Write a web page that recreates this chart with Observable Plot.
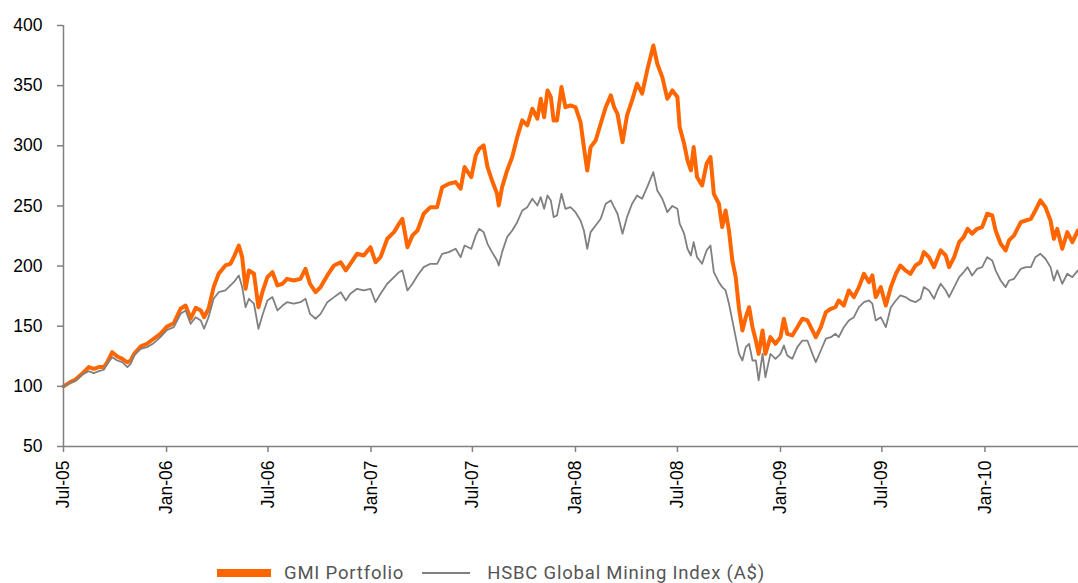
<!DOCTYPE html>
<html><head><meta charset="utf-8">
<script src="https://cdn.jsdelivr.net/npm/d3@7"></script>
<script src="https://cdn.jsdelivr.net/npm/@observablehq/plot@0.6"></script>
<style>
body{margin:0;background:#fff;}
#wrap{position:relative;width:1078px;height:583px;overflow:hidden;}
#legend{position:absolute;top:564px;left:217px;font-family:Roboto,"Liberation Sans",sans-serif;font-size:18.5px;letter-spacing:0.8px;color:#555;display:flex;align-items:center;white-space:nowrap;line-height:18px;}
#legend .sw{display:inline-block;}
</style></head><body><div id="wrap"><div id="chart"></div>
<div id="legend"></div></div>
<script>
const seriesNames = ["GMI Portfolio", "HSBC Global Mining Index (A$)"];
const seriesColors = ["#ff6600", "#808080"];
const tickDates = ["2005-07-01","2006-01-01","2006-07-01","2007-01-01","2007-07-01","2008-01-01","2008-07-01","2009-01-01","2009-07-01","2010-01-01"];
const tickLabels = ["Jul-05","Jan-06","Jul-06","Jan-07","Jul-07","Jan-08","Jul-08","Jan-09","Jul-09","Jan-10"];
const yTicks = [50,100,150,200,250,300,350,400];
const dates = [
"2005-07-01","2005-07-13","2005-07-22","2005-08-03","2005-08-15","2005-08-24","2005-09-02","2005-09-11","2005-09-17","2005-09-26",
"2005-10-05","2005-10-14","2005-10-23","2005-10-29","2005-11-04","2005-11-16","2005-11-27","2005-12-09","2005-12-21","2006-01-02",
"2006-01-14","2006-01-26","2006-02-04","2006-02-13","2006-02-22","2006-03-03","2006-03-09","2006-03-17","2006-03-26","2006-04-04",
"2006-04-16","2006-04-25","2006-05-01","2006-05-10","2006-05-16","2006-05-22","2006-05-28","2006-06-06","2006-06-14","2006-06-21",
"2006-06-30","2006-07-09","2006-07-18","2006-07-27","2006-08-04","2006-08-16","2006-08-28","2006-09-06","2006-09-14","2006-09-24",
"2006-10-03","2006-10-15","2006-10-27","2006-11-08","2006-11-17","2006-11-25","2006-12-07","2006-12-19","2006-12-31","2007-01-09",
"2007-01-18","2007-01-30","2007-02-11","2007-02-20","2007-02-26","2007-03-07","2007-03-16","2007-03-25","2007-04-05","2007-04-17",
"2007-04-29","2007-05-08","2007-05-20","2007-06-01","2007-06-10","2007-06-17","2007-06-29","2007-07-07","2007-07-13","2007-07-21",
"2007-07-28","2007-08-05","2007-08-14","2007-08-17","2007-08-23","2007-09-01","2007-09-10","2007-09-19","2007-09-28","2007-10-07",
"2007-10-16","2007-10-25","2007-10-31","2007-11-06","2007-11-12","2007-11-18","2007-11-23","2007-11-29","2007-12-07","2007-12-14",
"2007-12-23","2008-01-01","2008-01-10","2008-01-16","2008-01-22","2008-01-28","2008-02-06","2008-02-15","2008-02-24","2008-03-04",
"2008-03-10","2008-03-16","2008-03-25","2008-04-02","2008-04-11","2008-04-20","2008-04-29","2008-05-08","2008-05-19","2008-05-26",
"2008-06-04","2008-06-13","2008-06-22","2008-07-01","2008-07-05","2008-07-13","2008-07-19","2008-07-25","2008-07-30","2008-08-05",
"2008-08-14","2008-08-22","2008-08-29","2008-09-04","2008-09-13","2008-09-19","2008-09-25","2008-10-01","2008-10-07","2008-10-13",
"2008-10-19","2008-10-25","2008-10-31","2008-11-06","2008-11-12","2008-11-18","2008-11-23","2008-11-30","2008-12-05","2008-12-14",
"2008-12-23","2009-01-01","2009-01-07","2009-01-13","2009-01-22","2009-01-31","2009-02-09","2009-02-18","2009-02-27","2009-03-05",
"2009-03-14","2009-03-23","2009-04-01","2009-04-09","2009-04-15","2009-04-24","2009-05-03","2009-05-12","2009-05-21","2009-05-30",
"2009-06-08","2009-06-14","2009-06-20","2009-06-29","2009-07-08","2009-07-17","2009-07-26","2009-08-03","2009-08-12","2009-08-21",
"2009-08-30","2009-09-08","2009-09-14","2009-09-23","2009-10-02","2009-10-08","2009-10-14","2009-10-23","2009-10-29","2009-11-07",
"2009-11-16","2009-11-24","2009-12-01","2009-12-09","2009-12-18","2009-12-27","2010-01-05","2010-01-14","2010-01-20","2010-01-29",
"2010-02-07","2010-02-13","2010-02-22","2010-03-06","2010-03-15","2010-03-24","2010-04-01","2010-04-10","2010-04-19","2010-04-28",
"2010-05-04","2010-05-10","2010-05-19","2010-05-28","2010-06-06","2010-06-16"];
const gmi = [
100,103.5,105.5,110.4,116,114.6,116,116,120,128.4,
124.8,122.9,120,121.5,127,133.2,135.4,139.6,143.7,149.8,
152.5,164.5,167.2,156.2,165.3,163.1,157.5,164.5,182.5,193.6,
200.5,201.9,207.4,217.1,207.4,181.1,196.4,193.6,165.8,178.3,
190.8,194.9,183.9,185.3,189.4,188,189.4,197.7,185.3,178.3,
182.5,192.2,200.5,203.2,196.4,201.9,210.2,208.8,215.7,203.2,
207.4,222.7,228.2,235.2,239.3,215.7,225.5,229.6,243.5,249,
249,265.6,268.4,269.8,264.3,282.3,274,292,297.5,300.3,
282.3,271.2,260.1,250.4,265.6,279.5,290.6,307.2,321.1,316.9,
330.8,322.5,339.1,323.8,346,340.5,321.1,321.1,348.8,332.1,
333.5,332.1,319.7,298.9,279.5,298.9,304.4,318.3,332.1,341.9,
332.1,326.6,303,325.2,337.7,351.6,343.3,362.7,383.4,368.2,
357.1,339.1,346,340.5,315.5,301.7,287.8,279.5,298.9,274,
267,285,290.6,260.1,251.8,232.4,246.2,229.6,204.7,190.8,
164.5,146.5,157.5,165.8,149.2,138.1,127,146.5,127,140.9,
135.4,140.9,156.2,143.7,142.3,149.2,156.2,154.8,146.5,140.9,
149.2,161.7,164.5,165.8,171.4,167.2,179.7,174.2,182.5,193.6,
186.6,192.2,174.2,182.5,167.2,182.5,193.6,200.5,196.4,193.6,
200.5,203.2,211.6,207.4,199.1,206.1,213,208.8,199.1,207.4,
219.9,224.1,231,226.9,231,232.4,243.5,242.1,229.6,218.5,
213,221.3,225.5,236.5,237.9,239.3,246.2,254.6,249,237.9,
222.7,231,214.4,228.2,219.9,229.6];
const hsbc = [
100,103,104.3,109.6,112.6,111,112.6,113.8,118.8,124.3,
121.5,120.1,116,118.8,125.7,131.2,132.6,135.9,140.9,147,
149.2,160.3,163.1,152,157.5,154.8,147.9,157.5,172.8,178.3,
179.7,183.9,186.6,192.2,182.5,165.8,172.8,168.7,147.9,158.9,
171.4,174.2,163.1,167.2,170,168.7,170,172.8,160.3,156.2,
160.3,170,174.2,178.3,171.4,177,181.1,179.7,181.1,170,
177,185.3,190.8,194.9,196.4,179.7,185.3,192.2,199.1,201.9,
201.9,210.2,211.6,214.4,207.4,217.1,214.4,225.5,231,228.2,
218.5,211.6,204.7,200.5,211.6,224.1,229.6,236.5,246.2,249,
256,250.4,257.3,247.6,258.7,254.6,240.7,242.1,260.1,247.6,
249,244.8,237.9,229.6,214.4,228.2,233.8,239.3,251.8,254.6,
249,243.5,226.9,240.7,251.8,258.7,256,265.6,278.1,262.9,
256,244.8,250,247.6,235.2,226.9,214.4,208.8,219.9,207.4,
201.9,213,217.1,194.9,186.6,182.5,179.7,168.7,154.8,140.9,
127,121.5,132.6,135.4,121.5,121.5,104.9,127,107.6,127,
122.9,127,134,125.7,122.9,132.6,138.1,138.1,127,120.1,
129.8,139.6,140.9,143.7,140.9,149.2,154.8,157.5,165.8,170,
171.4,168.7,154.8,157.5,149.2,165.8,171.4,175.6,174.2,171.4,
170,172.8,182.5,179.7,172.8,179.7,185.3,179.7,174.2,182.5,
190.8,194.9,199.1,192.2,197.7,199.1,207.4,204.7,196.4,188,
182.5,188,189.4,197.7,199.1,199.1,207.4,210.2,206.1,199.1,
188,196.4,185.3,193.6,190.8,196.4];

const data = dates.map((d, i) => ({date: new Date(d), gmi: gmi[i], hsbc: hsbc[i]}));
const xStart = new Date("2005-07-01"), xEnd = new Date("2010-06-17");
const labelMap = new Map(tickDates.map((d, i) => [+new Date(d), tickLabels[i]]));

const chart = Plot.plot({
  width: 1078, height: 530,
  marginLeft: 63, marginRight: 0, marginTop: 25, marginBottom: 84,
  style: {fontFamily: "'Liberation Sans', Arial, sans-serif", fontSize: "17px", color: "#000", background: "#fff", overflow: "visible"},
  x: {type: "utc", domain: [xStart, xEnd]},
  y: {domain: [50, 400]},
  marks: [
    Plot.lineY(data, {x: "date", y: "gmi", stroke: seriesColors[0], strokeWidth: 4}),
    Plot.lineY(data, {x: "date", y: "hsbc", stroke: seriesColors[1], strokeWidth: 1.8}),
    Plot.ruleY([50], {stroke: "#808080", strokeWidth: 1.5}),
    Plot.ruleX([xStart], {y1: 50, y2: 400, stroke: "#808080", strokeWidth: 1.5}),
    Plot.axisY({ticks: yTicks, tickSize: 6, tickPadding: 15, stroke: "#808080", strokeWidth: 1.5, fill: "#000", label: null, fontSize: 17.5}),
    Plot.axisX({ticks: tickDates.map(d => new Date(d)), tickFormat: d => labelMap.get(+d), tickRotate: -90, tickSize: 6, tickPadding: 8, stroke: "#808080", strokeWidth: 1.5, fill: "#000", label: null, fontSize: 17.5})
  ]
});
document.getElementById("chart").appendChild(chart);

const legend = document.getElementById("legend");
legend.innerHTML =
  `<span class="sw" style="width:54px;height:8px;background:${seriesColors[0]};margin-right:13px"></span>` +
  `<span style="margin-right:18px">${seriesNames[0]}</span>` +
  `<span class="sw" style="width:48px;height:2px;background:${seriesColors[1]};margin-right:17px"></span>` +
  `<span>${seriesNames[1]}</span>`;
</script></body></html>
